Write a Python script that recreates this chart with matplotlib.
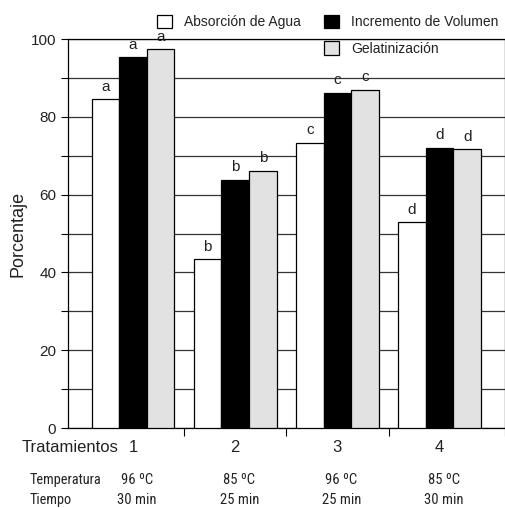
import matplotlib
matplotlib.use("Agg")
import matplotlib.pyplot as plt
import numpy as np
from matplotlib.patches import Patch

plt.rcParams['font.family'] = ['Liberation Sans', 'DejaVu Sans']

# Data
tratamientos = ['1', '2', '3', '4']
temperatura = ['96 ºC', '85 ºC', '96 ºC', '85 ºC']
tiempo = ['30 min', '25 min', '25 min', '30 min']
absorcion = [84.5, 43.4, 73.3, 52.9]
volumen = [95.3, 63.8, 86.2, 72.1]
gelatinizacion = [97.4, 66.1, 87.0, 71.7]
letras = ['a', 'b', 'c', 'd']

series = [
    ("Absorción de Agua", absorcion, 'white'),
    ("Incremento de Volumen", volumen, 'black'),
    ("Gelatinización", gelatinizacion, '#e2e2e2'),
]

fig = plt.figure(figsize=(5.06, 5.08), dpi=100)
ax = fig.add_axes([68 / 506, 80 / 508, 437 / 506, 389 / 508])

x = np.arange(1, 5)
width = 0.27
for i, (name, vals, color) in enumerate(series):
    pos = x + (i - 1) * width
    ax.bar(pos, vals, width, color=color, edgecolor='black', linewidth=0.9, zorder=3)
    for p, v, l in zip(pos, vals, letras):
        ax.annotate(l, (p, v), xytext=(0, 4), textcoords='offset points',
                    ha='center', va='bottom', fontsize=11, color='#222222')

ax.set_ylim(0, 100)
ax.set_xlim(0.363, 4.64)
ax.set_yticks([0, 20, 40, 60, 80, 100])
ax.set_yticks(np.arange(0, 101, 10), minor=True)
ax.tick_params(axis='y', which='both', direction='out', length=5, width=0.8,
               labelsize=11, labelcolor='#222222')
ax.yaxis.grid(True, which='both', color='#333333', linewidth=0.9, zorder=0)
ax.set_axisbelow(True)

# category labels without tick marks, separator ticks between groups
ax.set_xticks(x)
ax.set_xticklabels(tratamientos, fontsize=12, color='#222222')
ax.tick_params(axis='x', which='major', length=0, pad=9)
ax.set_xticks([1.5, 2.5, 3.5, 4.64], minor=True)
ax.tick_params(axis='x', which='minor', direction='out', length=6, width=0.8)

for s in ax.spines.values():
    s.set_linewidth(0.9)

ax.set_ylabel('Porcentaje', fontsize=13, labelpad=3, color='#222222')

fig.text(22 / 506, 1 - 447 / 508, 'Tratamientos', fontsize=12, va='center', ha='left',
         color='#222222')
narrow = ['Roboto Condensed', 'Archivo Narrow', 'PT Sans Narrow', 'Liberation Sans']
fig.text(30 / 506, 1 - 480 / 508, 'Temperatura', fontsize=10.3, va='center', ha='left',
         family=narrow, color='#222222')
fig.text(30 / 506, 1 - 500 / 508, 'Tiempo', fontsize=10.3, va='center', ha='left',
         family=narrow, color='#222222')
for xi, t, m in zip(x, temperatura, tiempo):
    xf = ax.transData.transform((xi + 0.04, 0))[0] / fig.bbox.width
    fig.text(xf, 1 - 480 / 508, t, fontsize=10.5, va='center', ha='center',
             family=narrow, color='#222222')
    fig.text(xf, 1 - 500 / 508, m, fontsize=10.5, va='center', ha='center',
             family=narrow, color='#222222')

handles = [Patch(facecolor=c, edgecolor='black', linewidth=0.9) for _, _, c in series]
blank = Patch(facecolor='none', edgecolor='none')
labels = [series[0][0], '', series[1][0], series[2][0]]
leg = fig.legend([handles[0], blank, handles[1], handles[2]], labels, ncol=2,
                 loc='upper left', bbox_to_anchor=(144 / 506, 1 - 2 / 508),
                 frameon=False, fontsize=10, handlelength=1.1, handleheight=1.1,
                 handletextpad=0.85, columnspacing=1.7, labelspacing=0.9)
for t in leg.get_texts():
    t.set_color('#222222')

fig.savefig('out.png', dpi=100)
